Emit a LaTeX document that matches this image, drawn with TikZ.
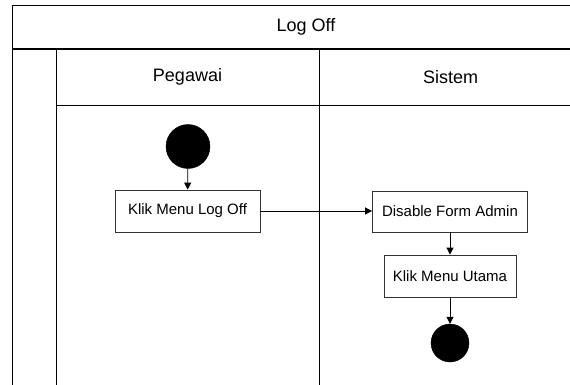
\documentclass[tikz,border=0pt]{standalone}
\usepackage{fontspec}
\setmainfont{Liberation Sans}
\usetikzlibrary{arrows.meta}
\begin{document}
\begin{tikzpicture}[x=1pt,y=-1pt,
  lane/.style={draw=black,line width=1pt},
  act/.style={draw=black!80,line width=0.8pt,fill=white,inner sep=0pt,
    font=\fontsize{15}{17}\selectfont},
  dot/.style={circle,fill=black,draw=black,inner sep=0pt},
  hdr/.style={font=\fontsize{18}{20}\selectfont,inner sep=0pt},
  flow/.style={draw=black,line width=0.8pt,-{Triangle[length=7pt,width=7pt]}}]
\useasboundingbox (0,0) rectangle (570,385);
\begin{scope}
\clip (0,0) rectangle (570,385);
\fill[white] (0,0) rectangle (570,385);
% frame and lanes
\draw[lane] (12,395) -- (12,5.5) -- (610,5.5);
\draw[lane,line width=1.6pt] (12,49.3) -- (610,49.3);
\draw[lane] (56,49.3) -- (56,395);
\draw[lane] (319,49.3) -- (319,395);
\draw[lane] (56,105.3) -- (610,105.3);
\node[hdr] (title) at (306,27) {Log Off};
\node[hdr] (peg) at (187.5,77) {Pegawai};
\node[hdr] (sis) at (450.5,77) {Sistem};
% activity nodes
\node[dot,minimum size=44pt] (start) at (188,146.5) {};
\node[act,minimum width=145pt,minimum height=42pt] (a1) at (187.5,211) {Klik Menu Log Off};
\node[act,minimum width=155pt,minimum height=41pt] (a2) at (450,211.5) {Disable Form Admin};
\node[act,minimum width=132pt,minimum height=42pt] (a3) at (450,276) {Klik Menu Utama};
\node[dot,minimum size=38pt] (end) at (450,343) {};
% connectors
\draw[flow] (start) -- (a1);
\draw[flow] (a1.east) -- (a2.west |- a1.east);
\draw[flow] (a2) -- (a3);
\draw[flow] (a3) -- (end);
\end{scope}
\end{tikzpicture}
\end{document}
